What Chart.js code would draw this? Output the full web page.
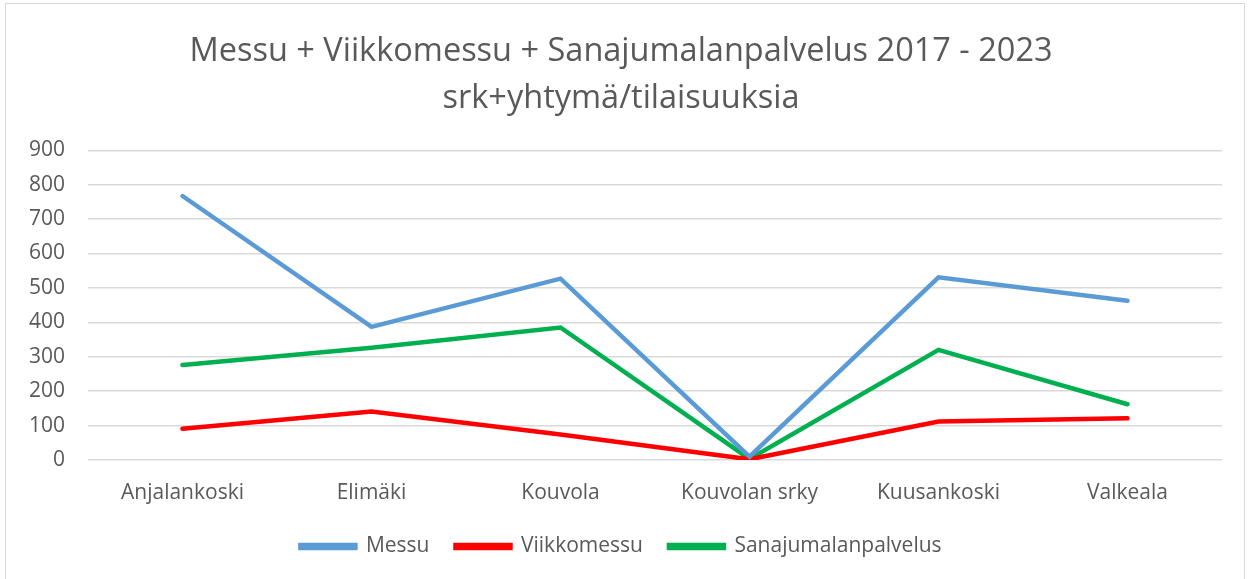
<!DOCTYPE html>
<html>
<head>
<meta charset="utf-8">
<script src="https://cdn.jsdelivr.net/npm/chart.js@4/dist/chart.umd.min.js"></script>
<style>
  html, body { margin: 0; padding: 0; background: #fff; }
  #frame { position: absolute; left: 5px; top: 3px; width: 1240px; height: 580px; border: 1px solid #d9d9d9; box-sizing: border-box; }
  #wrap { position: absolute; left: 0; top: 0; width: 1249px; height: 579px; }
</style>
</head>
<body>
<div id="frame"></div>
<div id="wrap"><canvas id="c" width="1249" height="579"></canvas></div>
<script>
const categories = ["Anjalankoski", "Elimäki", "Kouvola", "Kouvolan srky", "Kuusankoski", "Valkeala"];
const messu = [767, 387, 527, 10, 531, 463];
const viikkomessu = [91, 141, 74, 2, 112, 121];
const sanajumalanpalvelus = [276, 326, 385, 3, 320, 162];
const yTicks = [0, 100, 200, 300, 400, 500, 600, 700, 800, 900];
const titleLines = ["Messu + Viikkomessu + Sanajumalanpalvelus 2017 - 2023", "srk+yhtymä/tilaisuuksia"];

const FONT = "'Open Sans', 'Liberation Sans', sans-serif";
const GREY = "#595959";

function ds(label, data, color) {
  return {
    label, data,
    borderColor: color, backgroundColor: color,
    borderWidth: 4.5, pointRadius: 0, pointHoverRadius: 0,
    tension: 0, borderCapStyle: 'round', borderJoinStyle: 'miter', fill: false
  };
}

new Chart(document.getElementById('c'), {
  type: 'line',
  data: {
    labels: categories,
    datasets: [
      ds("Messu", messu, "#5B9BD5"),
      ds("Viikkomessu", viikkomessu, "#FF0000"),
      ds("Sanajumalanpalvelus", sanajumalanpalvelus, "#00B050")
    ]
  },
  options: {
    responsive: false,
    animation: false,
    layout: { padding: { left: 20, right: 27, top: 28, bottom: 12 } },
    plugins: {
      tooltip: { enabled: false },
      title: {
        display: true, text: titleLines, color: GREY,
        font: { family: FONT, size: 32.5, weight: 'normal', lineHeight: 1.45 },
        padding: { top: 0, bottom: 28 }
      },
      legend: {
        position: 'bottom',
        labels: {
          color: GREY, font: { family: FONT, size: 21 },
          boxWidth: 55, boxHeight: 3, padding: 26
        }
      }
    },
    scales: {
      x: {
        offset: true,
        afterFit: (s) => { s.height = 50; },
        grid: { display: false, drawTicks: false },
        border: { display: false },
        ticks: { color: GREY, font: { family: FONT, size: 21 }, padding: 20, maxRotation: 0 }
      },
      y: {
        min: 0, max: 900,
        afterBuildTicks: (s) => { s.ticks = yTicks.map(v => ({ value: v })); },
        afterFit: (s) => { s.width = 68; },
        grid: { color: "#d9d9d9", lineWidth: 1.5, drawTicks: false },
        border: { display: false },
        ticks: { color: GREY, font: { family: FONT, size: 21 }, padding: 23 }
      }
    }
  }
});
</script>
</body>
</html>
